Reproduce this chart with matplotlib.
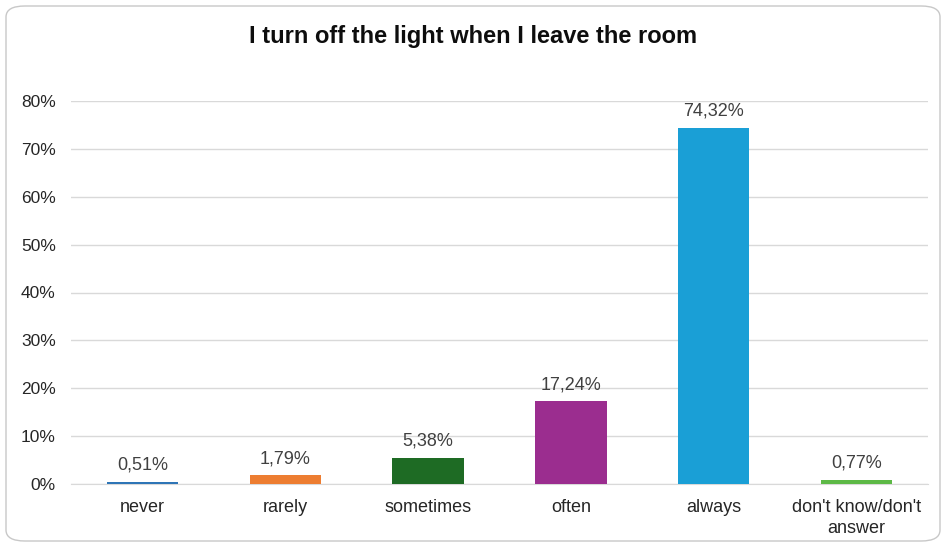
import matplotlib
matplotlib.use("Agg")
import matplotlib.pyplot as plt
from matplotlib.patches import FancyBboxPatch
from matplotlib.ticker import FuncFormatter, MultipleLocator

categories = ["never", "rarely", "sometimes", "often", "always", "don't know/don't\nanswer"]
values = [0.51, 1.79, 5.38, 17.24, 74.32, 0.77]
value_labels = ["0,51%", "1,79%", "5,38%", "17,24%", "74,32%", "0,77%"]
colors = ["#2E75B6", "#ED7D31", "#1E6B24", "#9B2D8F", "#1A9FD6", "#5DB946"]
title = "I turn off the light when I leave the room"

plt.rcParams['font.family'] = ['Liberation Sans', 'DejaVu Sans']

fig = plt.figure(figsize=(9.47, 5.47), dpi=100)
fig.patch.set_facecolor("white")
border = FancyBboxPatch((6 / 947, 6 / 547), 934 / 947, 535 / 547,
                        boxstyle="round,pad=0,rounding_size=0.02",
                        transform=fig.transFigure, facecolor="none",
                        edgecolor="#C8C8C8", linewidth=1.0, zorder=0)
fig.patches.append(border)

ax = fig.add_axes([71 / 947, 1 - 484 / 547, (928 - 71) / 947, (484 - 101) / 547])
ax.set_facecolor("none")
x = list(range(len(categories)))
bars = ax.bar(x, values, width=0.5, color=colors, zorder=3)
for xi, v, lab in zip(x, values, value_labels):
    ax.annotate(lab, (xi, v), xytext=(0, 6), textcoords="offset points",
                ha="center", va="bottom", fontsize=13, color="#404040")

ax.set_ylim(0, 80)
ax.set_xlim(-0.5, len(categories) - 0.5)
ax.yaxis.set_major_locator(MultipleLocator(10))
ax.yaxis.set_major_formatter(FuncFormatter(lambda v, p: f"{int(v)}%"))
ax.grid(axis="y", color="#D9D9D9", linewidth=1.0, zorder=0)
for s in ax.spines.values():
    s.set_visible(False)
ax.spines["bottom"].set_visible(True)
ax.spines["bottom"].set_color("#D9D9D9")
ax.tick_params(axis="y", length=0, labelsize=12.5, labelcolor="#262626", pad=11)
ax.tick_params(axis="x", length=0, labelsize=13, labelcolor="#262626", pad=11)
ax.set_xticks(x)
ax.set_xticklabels(categories, linespacing=1.3)

fig.text(0.5, 1 - 37 / 547, title, ha="center", va="center",
         fontsize=17, fontweight="bold", color="#0D0D0D")

fig.savefig("out.png", dpi=100)
